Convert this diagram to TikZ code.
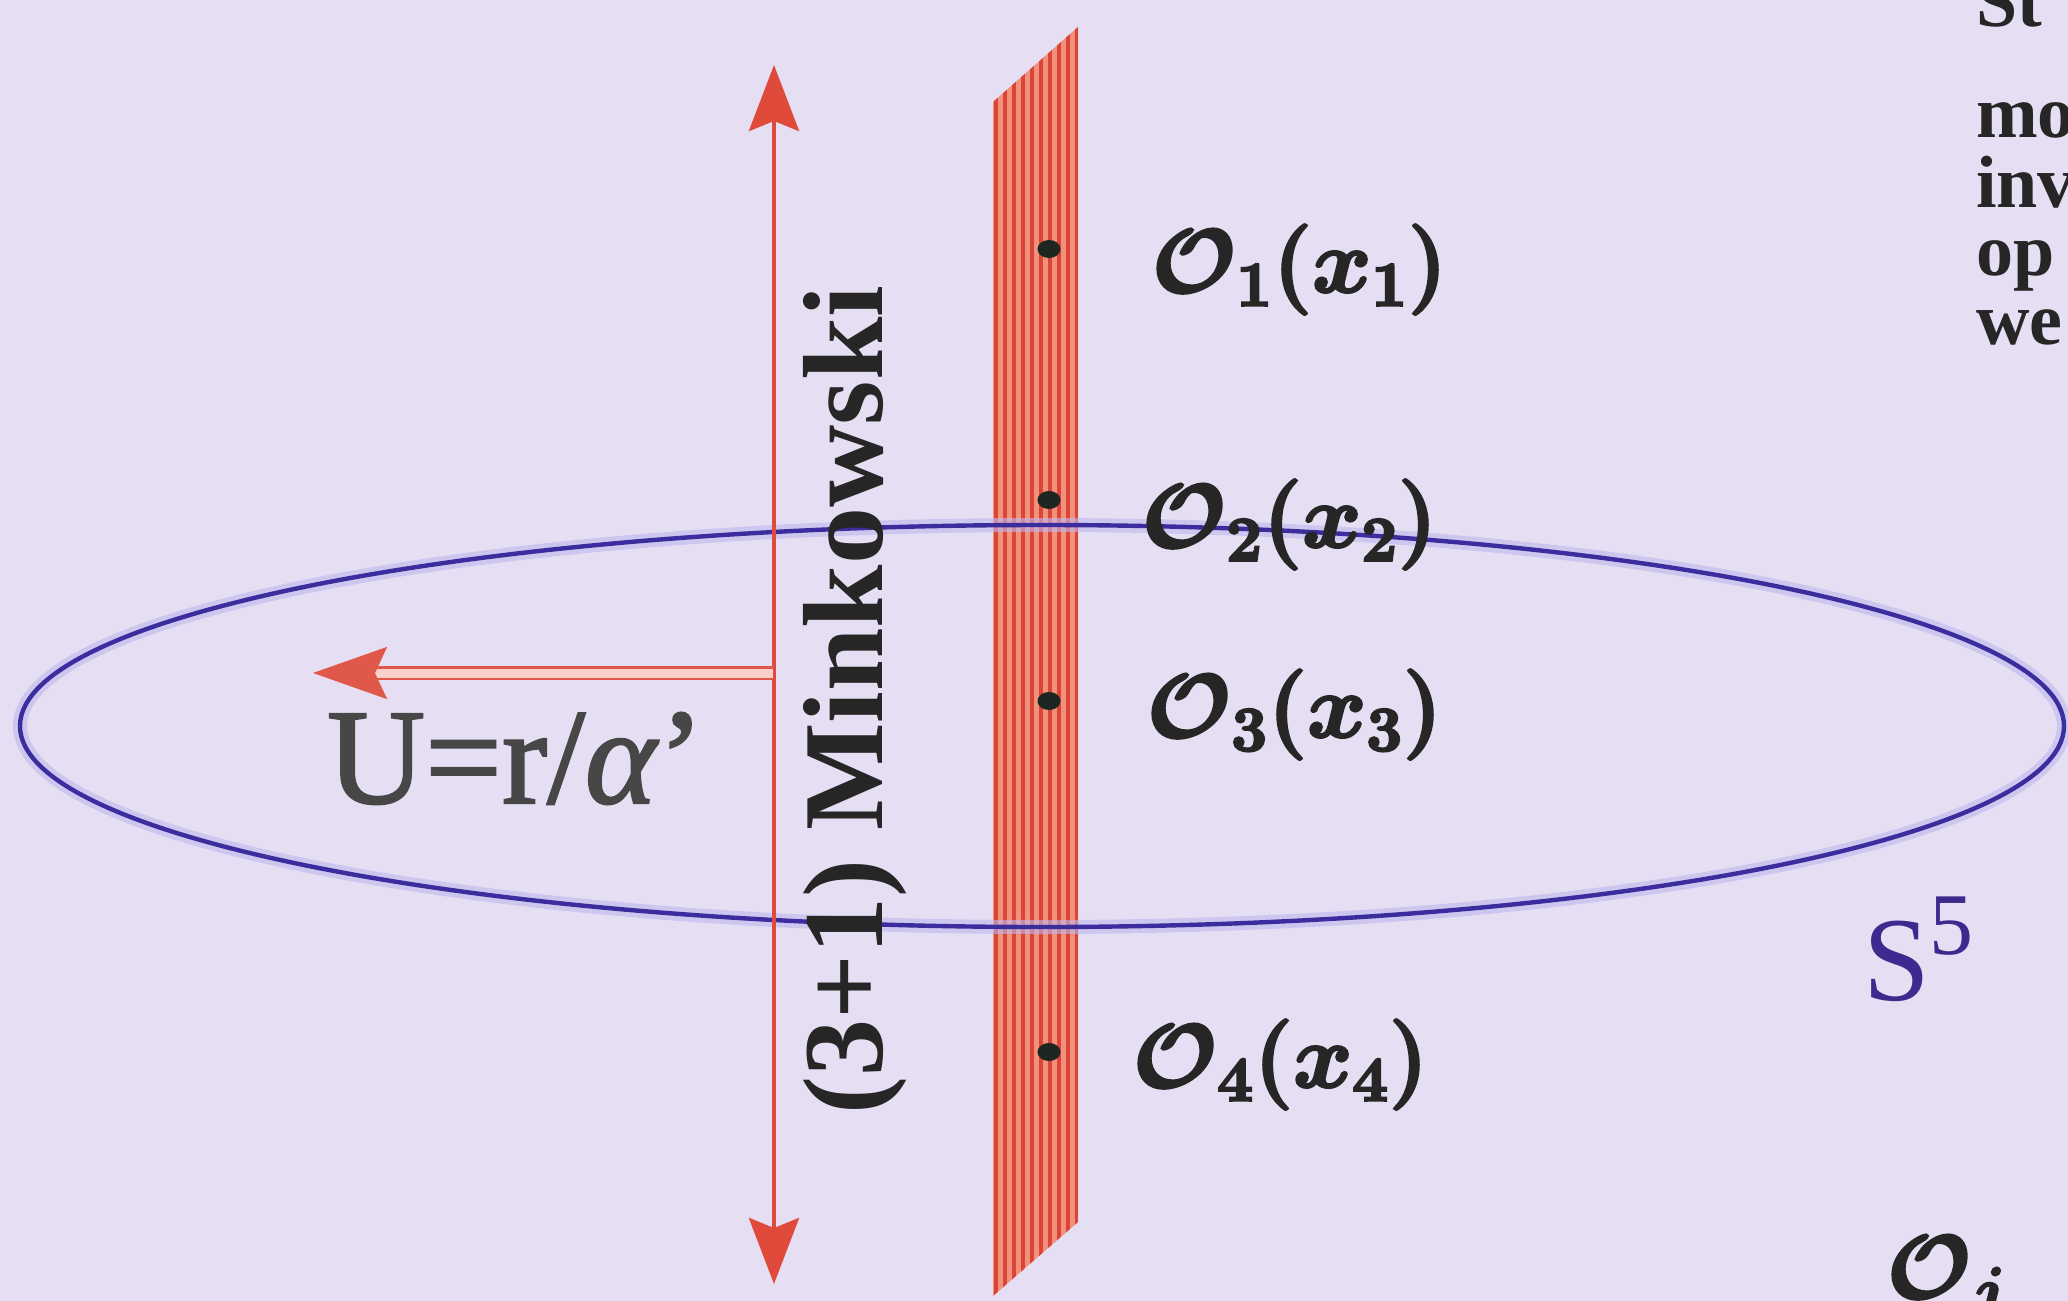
\documentclass[tikz,border=0pt]{standalone}
\usepackage{fix-cm}
\usepackage{amsmath}
\usepackage{bm}
\usepackage{fontspec}
\setmainfont{Liberation Serif}
\usetikzlibrary{arrows.meta,shapes.geometric}
\definecolor{bgc}{HTML}{E6DEF2}
\definecolor{planefill}{HTML}{F2907E}
\definecolor{planeline}{HTML}{DA4536}
\definecolor{dotc}{HTML}{1E2622}
\definecolor{ellc}{HTML}{3B2D9E}
\definecolor{ellglow}{HTML}{BDB9F0}
\definecolor{redarrow}{HTML}{E04A3A}
\definecolor{hout}{HTML}{E0584A}
\definecolor{hin}{HTML}{FAD0C8}
\definecolor{sfivec}{HTML}{3D2A8E}
\definecolor{textc}{HTML}{262626}
\definecolor{ulabc}{HTML}{474747}
\newcommand\heavytext[2]{\special{pdf:literal direct 2 Tr #1 w}#2\special{pdf:literal direct 0 Tr}}
\tikzset{
  every node/.style={inner sep=0pt, outer sep=0pt},
  oplabel/.style={anchor=base west, text=textc, font=\fontsize{45}{50}\selectfont},
  dotnode/.style={ellipse, fill=dotc, minimum width=11.5pt, minimum height=9pt},
  sidetext/.style={anchor=base west, text=textc, font=\fontsize{37}{40}\selectfont\bfseries},
  minkarrow/.style={draw=redarrow, line width=2.2pt,
     {Stealth[length=33pt,width=25pt,inset=5pt]}-{Stealth[length=33pt,width=25pt,inset=5pt]}},
  harrow/.style={draw=hout, double=hin, line width=1.2pt, double distance=4.5pt,
     -{Stealth[length=37pt,width=26pt,inset=6pt]}},
  ellline/.style={draw=ellc, line width=2.2pt},
  ellhalo/.style={draw=ellglow, line width=7pt, opacity=0.6},
}
\begin{document}
\begin{tikzpicture}[x=0.5pt,y=-0.5pt]
\useasboundingbox (0,0) rectangle (2068,1301);
\fill[bgc] (0,0) rectangle (2068,1301);
\begin{scope}
\clip (0,0) rectangle (2068,1301);
% brane (striped plane)
\fill[planefill] (993,102) -- (1078,27) -- (1078,1222) -- (993,1296) -- cycle;
\begin{scope}
\clip (993,102) -- (1078,27) -- (1078,1222) -- (993,1296) -- cycle;
\foreach \i in {0,...,9} {
  \draw[planeline, line width=1.7pt] (996+\i*9,0) -- (996+\i*9,1301);
}
\end{scope}
% operator insertion points
\node[dotnode] (d1) at (1049,249) {};
\node[dotnode] (d2) at (1049,500) {};
\node[dotnode] (d3) at (1049,701) {};
\node[dotnode] (d4) at (1049,1052) {};
% S5 ellipse
\draw[ellhalo] (1042,726) ellipse [x radius=511pt, y radius=100.5pt];
\draw[ellline] (1042,726) ellipse [x radius=511pt, y radius=100.5pt];
% Minkowski double arrow
\coordinate (mtop) at (774,65);
\coordinate (mbot) at (774,1284);
\draw[minkarrow] (mtop) -- (mbot);
% radial arrow
\coordinate (hstart) at (773,673);
\coordinate (htip) at (313,673);
\draw[harrow] (hstart) -- (htip);
% labels
\node[anchor=base, rotate=90, text=textc, font=\fontsize{57}{60}\selectfont\bfseries] (mink) at (882,700) {(3+1) Minkowski};
\node[anchor=base west, text=sfivec, font=\fontsize{60}{60}\selectfont] (s5) at (1863,1000) {S\raisebox{23pt}{\fontsize{44}{44}\selectfont 5}};
% clipped side text
\node[sidetext] (t1) at (1976,26) {St};
\node[sidetext] (t2) at (1976,137) {mo};
\node[sidetext] (t3) at (1976,207) {inv};
\node[sidetext] (t4) at (1976,275) {op};
\node[sidetext] (t5) at (1976,344) {we};
% heavier labels, drawn last
\node[anchor=base west, text=ulabc, font=\fontsize{68}{68}\selectfont] (ulab) at (327,803) {\heavytext{1.1}{U=r/\textit{α}’}};
\node[oplabel] (o1) at (1152,292) {\heavytext{1.3}{$\bm{\mathcal{O}_1(x_1)}$}};
\node[oplabel] (o2) at (1142,547) {\heavytext{1.3}{$\bm{\mathcal{O}_2(x_2)}$}};
\node[oplabel] (o3) at (1147,737) {\heavytext{1.3}{$\bm{\mathcal{O}_3(x_3)}$}};
\node[oplabel] (o4) at (1133,1087) {\heavytext{1.3}{$\bm{\mathcal{O}_4(x_4)}$}};
\node[oplabel] (oj) at (1887,1298) {\heavytext{1.3}{$\bm{\mathcal{O}_j}$}};
\end{scope}
\end{tikzpicture}
\end{document}
